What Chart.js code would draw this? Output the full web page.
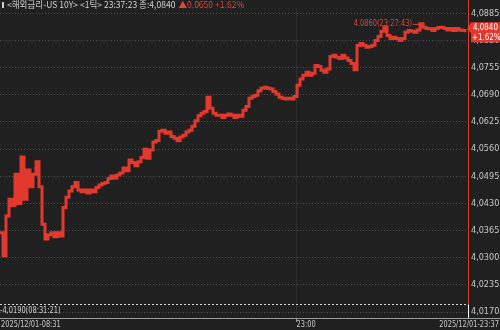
<!DOCTYPE html>
<html><head><meta charset="utf-8">
<script src="https://cdn.jsdelivr.net/npm/chart.js@4"></script>
<style>html,body{margin:0;padding:0;background:#202020;}#wrap{width:500px;height:330px;}</style>
</head><body><div id="wrap"><canvas id="c" width="500" height="330"></canvas></div>
<script>
// ---- data ----
const prices = [
4.0360,4.0305,4.0400,4.0440,4.0425,4.0500,4.0430,4.0541,4.0440,4.0510,
4.0470,4.0500,4.0530,4.0470,4.0380,4.0345,4.0355,4.0360,4.0350,4.0360,
4.0352,4.0420,4.0445,4.0460,4.0470,4.0480,4.0462,4.0458,4.0462,4.0455,
4.0462,4.0458,4.0468,4.0474,4.0478,4.0480,4.0490,4.0496,4.0491,4.0498,
4.0503,4.0515,4.0508,4.0534,4.0528,4.0520,4.0530,4.0540,4.0560,4.0538,
4.0558,4.0577,4.0581,4.0603,4.0605,4.0598,4.0601,4.0590,4.0586,4.0580,
4.0589,4.0593,4.0601,4.0605,4.0615,4.0628,4.0640,4.0646,4.0650,4.0684,
4.0658,4.0646,4.0641,4.0641,4.0636,4.0641,4.0644,4.0641,4.0636,4.0641,
4.0639,4.0653,4.0662,4.0682,4.0686,4.0689,4.0700,4.0706,4.0708,4.0706,
4.0704,4.0698,4.0692,4.0684,4.0682,4.0680,4.0682,4.0680,4.0686,4.0713,
4.0728,4.0737,4.0744,4.0737,4.0742,4.0760,4.0758,4.0749,4.0744,4.0752,
4.0782,4.0785,4.0780,4.0777,4.0785,4.0778,4.0772,4.0765,4.0750,4.0808,
4.0813,4.0809,4.0804,4.0806,4.0809,4.0820,4.0830,4.0842,4.0852,4.0832,
4.0825,4.0828,4.0825,4.0820,4.0825,4.0840,4.0844,4.0842,4.0840,4.0845,
4.0860,4.0852,4.0849,4.0848,4.0844,4.0849,4.0851,4.0852,4.0849,4.0845,
4.0849,4.0844,4.0849,4.0845,4.0844,4.0840
];
const yTicks = [4.0170,4.0235,4.0300,4.0365,4.0430,4.0495,4.0560,4.0625,4.0690,4.0755,4.0820,4.0885];
const xTickLabels = ['2025/12/01-08:31','23:00','2025/12/01-23:37'];
const xTickIndex = 98.7;           // position of the 23:00 tick on the index axis
const lastPrice = 4.0840;
const lastChange = '+1.62%';
const minPrice = 4.0190, minTime = '08:31:21';
const maxPrice = 4.0860, maxTime = '23:27:43', maxIndex = 140;
const headerMain = '<해외금리-US 10Y> <1틱> 23:37:23 종:4,0840';
const headerChange = '▲0.0650 +1.62%';

const RED = '#e3382d';
const fmt = v => v.toFixed(4).replace('.', ',');
const SMALL = '9px "DejaVu Sans Condensed", "DejaVu Sans", sans-serif';

function narrow(ctx, txt, x, y, sx, align) {
  ctx.save();
  ctx.translate(x, y);
  ctx.scale(sx, 1);
  ctx.textAlign = align;
  ctx.fillText(txt, 0, 0);
  ctx.restore();
}

const overlay = {
  id: 'overlay',
  afterDraw(chart) {
    const {ctx, chartArea: a, scales: {x, y}} = chart;
    ctx.save();
    // bottom axis line
    ctx.strokeStyle = '#9a9a9a'; ctx.lineWidth = 1;
    ctx.beginPath(); ctx.moveTo(0, a.bottom + 0.5); ctx.lineTo(500, a.bottom + 0.5); ctx.stroke();
    const xt = Math.round(x.getPixelForValue(xTickIndex)) + 0.5;
    ctx.beginPath(); ctx.moveTo(xt, a.bottom); ctx.lineTo(xt, a.bottom + 4); ctx.stroke();
    // x labels
    ctx.font = SMALL;
    ctx.fillStyle = '#c8c8c8'; ctx.textBaseline = 'middle';
    narrow(ctx, xTickLabels[0], 1, 325, 0.82, 'left');
    narrow(ctx, xTickLabels[1], xt, 325, 0.82, 'left');
    narrow(ctx, xTickLabels[2], 499, 325, 0.82, 'right');
    // min dashed line
    const ym = Math.round(y.getPixelForValue(minPrice)) + 0.5;
    ctx.strokeStyle = '#d8d8d8'; ctx.setLineDash([2, 2]);
    ctx.beginPath(); ctx.moveTo(0, ym); ctx.lineTo(a.right, ym); ctx.stroke();
    ctx.setLineDash([]);
    ctx.fillStyle = '#d0d0d0';
    narrow(ctx, '-' + fmt(minPrice) + '(' + minTime + ')', 0, ym + 6, 0.82, 'left');
    // red vertical line and white bottom segment
    ctx.strokeStyle = RED;
    ctx.beginPath(); ctx.moveTo(a.right + 0.5, 0); ctx.lineTo(a.right + 0.5, ym); ctx.stroke();
    ctx.strokeStyle = '#ffffff';
    ctx.beginPath(); ctx.moveTo(a.right + 0.5, ym); ctx.lineTo(a.right + 0.5, a.bottom); ctx.stroke();
    // max label
    const xM = x.getPixelForValue(maxIndex), yM = y.getPixelForValue(maxPrice);
    ctx.fillStyle = '#d9473a';
    narrow(ctx, maxPrice.toFixed(4) + '(' + maxTime + ')', xM - 8, yM, 0.82, 'right');
    ctx.strokeStyle = '#d9473a';
    ctx.beginPath(); ctx.moveTo(xM - 7, yM + 0.5); ctx.lineTo(xM - 1, yM + 0.5); ctx.stroke();
    // current price box
    const yc = y.getPixelForValue(lastPrice);
    ctx.fillStyle = RED;
    ctx.beginPath();
    ctx.moveTo(a.right - 1, yc - 3); ctx.lineTo(a.right + 3, yc - 10); ctx.lineTo(500, yc - 10);
    ctx.lineTo(500, yc + 10); ctx.lineTo(a.right + 3, yc + 10); ctx.lineTo(a.right + 3, yc + 1);
    ctx.closePath(); ctx.fill();
    ctx.fillStyle = '#ffffff';
    narrow(ctx, fmt(lastPrice), a.right + 5, yc - 5, 0.88, 'left');
    narrow(ctx, lastChange, a.right + 4, yc + 5, 0.88, 'left');
    // header
    ctx.font = '9px "Noto Sans CJK KR", sans-serif';
    ctx.fillStyle = '#d0d0d0';
    ctx.fillRect(2, 2, 2, 6);
    ctx.textBaseline = 'middle';
    narrow(ctx, headerMain, 7, 5, 0.95, 'left');
    const w = ctx.measureText(headerMain).width * 0.95;
    ctx.fillStyle = '#e0453a';
    narrow(ctx, headerChange, 7 + w + 3, 5, 0.95, 'left');
    ctx.restore();
  }
};

new Chart(document.getElementById('c'), {
  type: 'line',
  data: {
    datasets: [{
      data: prices.map((v, i) => ({x: i, y: v})),
      borderColor: RED, borderWidth: 3, stepped: true,
      pointRadius: 0, fill: false
    }]
  },
  options: {
    responsive: false, animation: false,
    layout: {padding: {top: 8, left: 0, right: 0, bottom: 0}},
    plugins: {legend: {display: false}, tooltip: {enabled: false}},
    scales: {
      x: {
        type: 'linear', min: 0, max: 156,
        afterFit: s => { s.height = 12; },
        afterBuildTicks: s => { s.ticks = [{value: xTickIndex}]; },
        ticks: {display: false},
        grid: {color: '#2e2e2e', drawTicks: false},
        border: {display: false}
      },
      y: {
        position: 'right', min: 4.01557, max: 4.08970,
        afterFit: s => { s.width = 32; },
        afterBuildTicks: s => { s.ticks = yTicks.map(v => ({value: v})); },
        ticks: {
          padding: 3, color: '#c8c8c8',
          font: {size: 9, family: '"DejaVu Sans Condensed", "DejaVu Sans", sans-serif'},
          callback: v => fmt(v)
        },
        grid: {color: '#4c4c4c', drawTicks: false},
        border: {display: false, dash: [1, 2]}
      }
    }
  },
  plugins: [overlay]
});
</script></body></html>
